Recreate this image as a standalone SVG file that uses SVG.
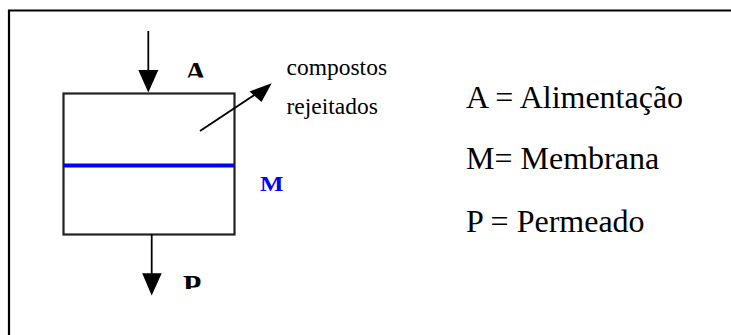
<svg xmlns="http://www.w3.org/2000/svg" width="731" height="335" viewBox="0 0 731 335">
<style>
.frame{fill:none;stroke:#000;stroke-width:2.2}
.box{fill:#fff;stroke:#222;stroke-width:2.2}
.ln{stroke:#000;stroke-width:1.8;fill:none}
.hd{fill:#000}
.serif{font-family:"Liberation Serif","Times New Roman",serif;fill:#000}
.bold{font-family:"Liberation Serif","Times New Roman",serif;font-weight:bold}
</style>
<defs>
<clipPath id="clipA"><rect x="170" y="50" width="50" height="27.5"/></clipPath>
<clipPath id="clipP"><rect x="170" y="265" width="50" height="24"/></clipPath>
</defs>
<rect width="731" height="335" fill="#fff"/>
<path class="frame" d="M9,340 V10.5 H740"/>
<g id="module">
<rect class="box" x="63.5" y="93.5" width="171" height="141"/>
</g>
<g id="membrane">
<line x1="63" y1="165.5" x2="234" y2="165.5" stroke="#0000ff" stroke-width="4"/>
</g>
<g id="connectors">
<line class="ln" x1="148.3" y1="31" x2="148.3" y2="75"/>
<polygon class="hd" points="138.3,70 158.3,70 148.3,92.5"/>
<line class="ln" x1="151.7" y1="234" x2="151.7" y2="278"/>
<polygon class="hd" points="142.2,273.3 161.7,273.3 151.7,295.5"/>
<line class="ln" x1="200" y1="131" x2="258" y2="92.5"/>
<polygon class="hd" points="271.7,83.3 249.5,91.5 261.5,102"/>
</g>
<g id="label-A"><text class="bold" x="195.5" y="82" font-size="30" text-anchor="middle" clip-path="url(#clipA)">A</text></g>
<g id="label-M"><text class="bold" x="260" y="190.5" font-size="21" fill="#0000ff" textLength="23.5" lengthAdjust="spacingAndGlyphs">M</text></g>
<g id="label-P"><text class="bold" x="183" y="295" font-size="30" clip-path="url(#clipP)">P</text></g>
<g id="label-rejeitados">
<text class="serif" x="286.5" y="75" font-size="23.5">compostos</text>
<text class="serif" x="286.5" y="113.5" font-size="23.5">rejeitados</text>
</g>
<g id="legend">
<text class="serif" x="466" y="107.5" font-size="32">A = Alimentação</text>
<text class="serif" x="466" y="168.5" font-size="32">M= Membrana</text>
<text class="serif" x="466" y="232" font-size="32">P = Permeado</text>
</g>
</svg>
